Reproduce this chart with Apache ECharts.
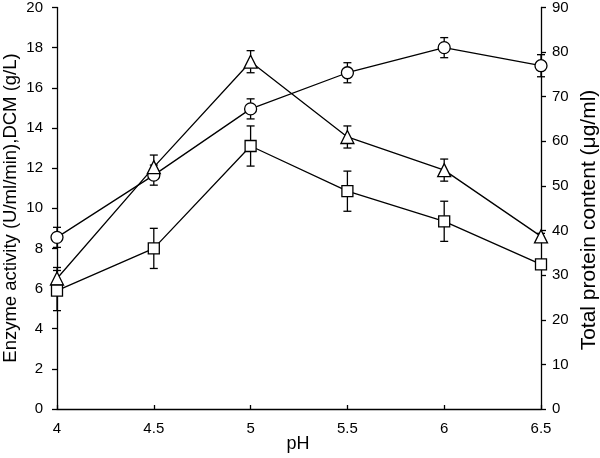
<!DOCTYPE html>
<html><head><meta charset="utf-8">
<script src="https://cdn.jsdelivr.net/npm/echarts@6/dist/echarts.min.js"></script>
<style>html,body{margin:0;padding:0;background:#fff}#c{width:600px;height:458px}</style>
</head><body><div id="c"></div>
<script>
var pH = [4, 4.5, 5, 5.5, 6, 6.5];
var circleVals = [8.55, 11.65, 14.95, 16.75, 18.0, 17.1];
var circleErr  = [0.5, 0.5, 0.5, 0.5, 0.5, 0.55];
var triVals    = [6.5, 12.05, 17.3, 13.55, 11.9, 8.6];
var triErr     = [0.55, 0.6, 0.55, 0.55, 0.55, 0.15];
var sqVals     = [5.9, 8.0, 13.1, 10.85, 9.35, 7.2];
var sqErr      = [1.0, 1.0, 1.0, 1.0, 1.0, 0.2];
var leftTicks = {min: 0, max: 20, interval: 2};
var rightTicks = {min: 0, max: 90, interval: 10};
var xTitle = 'pH';
var leftTitle = 'Enzyme activity (U/ml/min),DCM (g/L)';
var rightTitle = 'Total protein content (\u03bcg/ml)';

function pts(v){ return pH.map(function(x,i){ return [x, v[i]]; }); }
function errs(v,e){ return pH.map(function(x,i){ return [x, v[i]-e[i], v[i]+e[i]]; }); }

var font = 'Liberation Sans, Arial, sans-serif';
function errSeries(v,e){
  return {
    type:'custom', xAxisIndex:0, yAxisIndex:0, z:1, silent:true,
    data: errs(v,e),
    renderItem:function(params, api){
      var lo = api.coord([api.value(0), api.value(1)]);
      var hi = api.coord([api.value(0), api.value(2)]);
      var w = 4;
      var st = {stroke:'#000', lineWidth:1.3};
      return {type:'group', children:[
        {type:'line', shape:{x1:lo[0],y1:lo[1],x2:hi[0],y2:hi[1]}, style:st},
        {type:'line', shape:{x1:lo[0]-w,y1:lo[1],x2:lo[0]+w,y2:lo[1]}, style:st},
        {type:'line', shape:{x1:hi[0]-w,y1:hi[1],x2:hi[0]+w,y2:hi[1]}, style:st}
      ]};
    }
  };
}
function lineSeries(v, sym, size){
  return {
    type:'line', xAxisIndex:0, yAxisIndex:0, z:3, data: pts(v),
    symbol: sym, symbolSize: size, showAllSymbol:true,
    lineStyle:{color:'#000', width:1.3},
    itemStyle:{color:'#fff', borderColor:'#000', borderWidth:1.3},
    animation:false
  };
}
var axisLineSt = {show:true, lineStyle:{color:'#000', width:1.3}};
var labelSt = {color:'#000', fontSize:15, fontFamily:font};

var chart = echarts.init(document.getElementById('c'));
chart.setOption({
  animation:false,
  grid:{left:57, right:59, top:7, bottom:49},
  xAxis:{
    type:'value', min:4, max:6.5, interval:0.5,
    axisLine:axisLineSt,
    axisTick:{inside:true, length:4, lineStyle:{color:'#000', width:1.3}},
    axisLabel:Object.assign({margin:12}, labelSt),
    splitLine:{show:false}
  },
  yAxis:[{
    type:'value', min:leftTicks.min, max:leftTicks.max, interval:leftTicks.interval,
    axisLine:axisLineSt,
    axisTick:{show:true, length:5, lineStyle:{color:'#000', width:1.3}},
    axisLabel:Object.assign({margin:14}, labelSt),
    splitLine:{show:false}
  },{
    type:'value', position:'right', min:rightTicks.min, max:rightTicks.max, interval:rightTicks.interval,
    axisLine:axisLineSt,
    axisTick:{show:true, length:5, lineStyle:{color:'#000', width:1.3}},
    axisLabel:Object.assign({margin:11}, labelSt),
    splitLine:{show:false}
  }],
  graphic:[
    {type:'text', x:298, y:444, style:{text:xTitle, fill:'#000', font:'18px '+font, textAlign:'center', textVerticalAlign:'middle'}},
    {type:'text', x:11, y:208, rotation:Math.PI/2, style:{text:leftTitle, fill:'#000', font:'18.5px '+font, textAlign:'center', textVerticalAlign:'middle'}},
    {type:'text', x:589, y:220, rotation:Math.PI/2, style:{text:rightTitle, fill:'#000', font:'21px '+font, textAlign:'center', textVerticalAlign:'middle'}}
  ],
  series:[
    errSeries(circleVals, circleErr),
    errSeries(triVals, triErr),
    errSeries(sqVals, sqErr),
    lineSeries(circleVals, 'circle', 12),
    lineSeries(triVals, 'triangle', 13),
    lineSeries(sqVals, 'rect', 11)
  ]
});
</script></body></html>
